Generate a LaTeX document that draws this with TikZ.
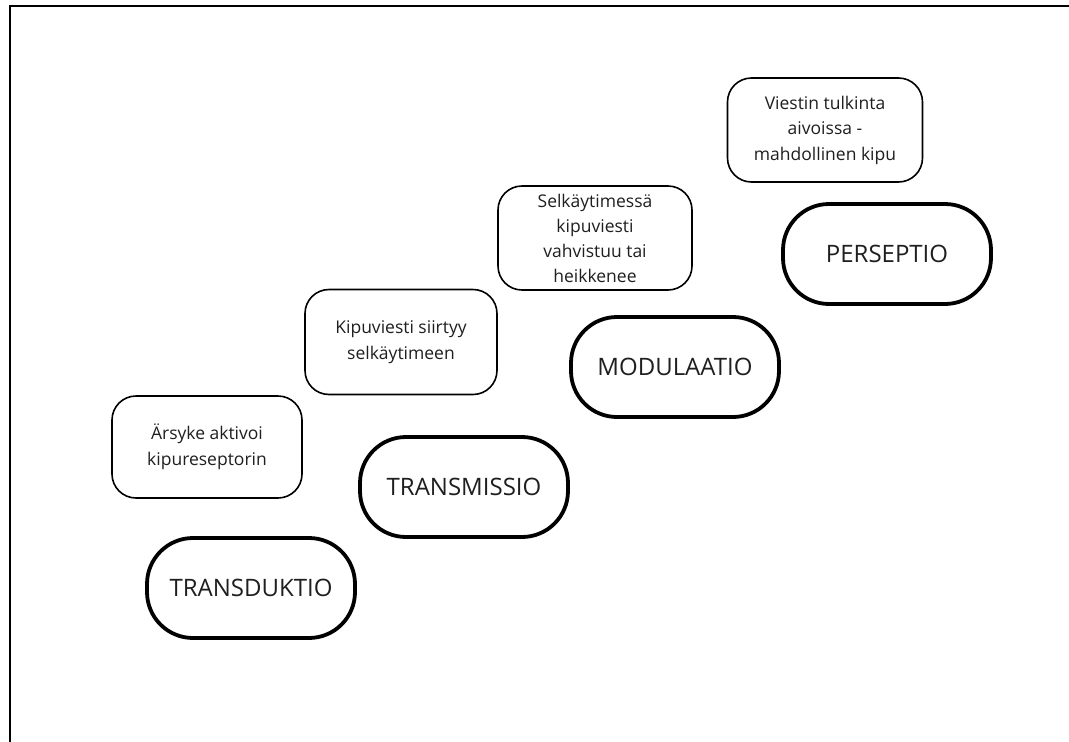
\documentclass[tikz,border=0pt]{standalone}
\usepackage{fontspec}
\setmainfont{Open Sans}
\begin{document}
\begin{tikzpicture}[x=1pt,y=-1pt,
  stage/.style={draw=black, line width=3.8pt, rounded corners=46pt,
    minimum width=208pt, minimum height=100pt, inner sep=0pt,
    font=\fontsize{24}{28}\selectfont, text=black!88},
  note/.style={draw=black, line width=1.6pt, rounded corners=24pt,
    minimum width=192pt, minimum height=103pt, inner sep=0pt, align=center,
    font=\fontsize{17.5}{25.5}\selectfont, text=black!88},
  frameline/.style={line width=2.4pt, line cap=rect}]
\useasboundingbox (0,0) rectangle (1069,742);
\fill[white] (0,0) rectangle (1069,742);
% outer frame: top and left edges only
\coordinate (fl) at (10,742);
\coordinate (fc) at (10,6);
\coordinate (fr) at (1069,6);
\draw[frameline] (fl) -- (fc) -- (fr);
% stages of pain processing
\node[stage] (transduktio) at (251,588) {TRANSDUKTIO};
\node[stage] (transmissio) at (464,487) {TRANSMISSIO};
\node[stage] (modulaatio) at (675,367) {MODULAATIO};
\node[stage] (perseptio) at (887,254) {PERSEPTIO};
% descriptions
\node[note, minimum width=190pt, minimum height=102pt] (n1) at (207,447) {Ärsyke aktivoi\\kipureseptorin};
\node[note, minimum width=192pt, minimum height=105pt] (n2) at (401,342) {Kipuviesti siirtyy\\selkäytimeen};
\node[note, minimum width=194pt, minimum height=104pt, font=\fontsize{17.5}{25}\selectfont] (n3) at (595,238) {Selkäytimessä\\kipuviesti\\vahvistuu tai\\heikkenee};
\node[note, minimum width=195pt, minimum height=104pt] (n4) at (825,130) {Viestin tulkinta\\aivoissa -\\mahdollinen kipu};
\end{tikzpicture}
\end{document}
